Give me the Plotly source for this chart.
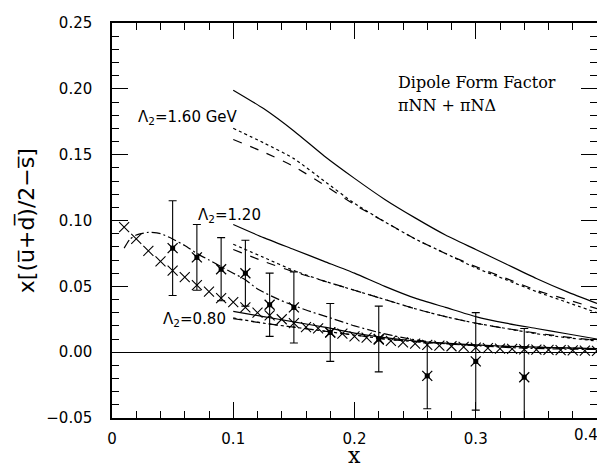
import plotly.graph_objects as go

# ---- data ----
x_model = [0.10, 0.125, 0.15, 0.175, 0.20, 0.225, 0.25, 0.275, 0.30, 0.325, 0.35, 0.375, 0.40]

l160_solid  = [0.199, 0.185, 0.168, 0.149, 0.132, 0.116, 0.102, 0.089, 0.078, 0.067, 0.056, 0.046, 0.037]
l160_dotted = [0.170, 0.159, 0.147, 0.130, 0.113, 0.099, 0.086, 0.075, 0.064, 0.055, 0.046, 0.038, 0.030]
l160_dashed = [0.1615, 0.152, 0.141, 0.127, 0.112, 0.099, 0.086, 0.075, 0.065, 0.056, 0.047, 0.040, 0.033]

l120_solid  = [0.097, 0.087, 0.078, 0.069, 0.060, 0.050, 0.041, 0.034, 0.027, 0.022, 0.018, 0.014, 0.010]
l120_dotted = [0.082, 0.072, 0.062, 0.054, 0.047, 0.040, 0.033, 0.027, 0.022, 0.018, 0.014, 0.011, 0.0085]
l120_dashed = [0.078, 0.069, 0.061, 0.054, 0.047, 0.040, 0.033, 0.027, 0.022, 0.018, 0.0145, 0.0115, 0.009]

l080_solid  = [0.031, 0.027, 0.023, 0.019, 0.0145, 0.011, 0.0085, 0.0068, 0.0055, 0.0045, 0.0038, 0.0032, 0.0027]
l080_dotted = [0.026, 0.022, 0.019, 0.016, 0.013, 0.010, 0.008, 0.0065, 0.0053, 0.0044, 0.0037, 0.0031, 0.0026]
l080_dashed = [0.0255, 0.022, 0.019, 0.016, 0.013, 0.010, 0.008, 0.0065, 0.0053, 0.0044, 0.0037, 0.0031, 0.0026]

x_dashdot = [0.010, 0.015, 0.020, 0.030, 0.040, 0.050, 0.060, 0.070, 0.080, 0.090, 0.100, 0.110,
             0.120, 0.140, 0.160, 0.180, 0.200, 0.220, 0.240, 0.260, 0.280, 0.300, 0.340, 0.400]
y_dashdot = [0.079, 0.086, 0.089, 0.091, 0.090, 0.086, 0.081, 0.075, 0.070, 0.065, 0.060, 0.055,
             0.048, 0.039, 0.032, 0.026, 0.020, 0.015, 0.011, 0.008, 0.006, 0.005, 0.003, 0.002]

x_cross = [0.01, 0.02, 0.03, 0.04, 0.05, 0.06, 0.07, 0.08, 0.09, 0.10,
           0.11, 0.12, 0.13, 0.14, 0.15, 0.16, 0.17, 0.18, 0.19, 0.20,
           0.21, 0.22, 0.23, 0.24, 0.25, 0.26, 0.27, 0.28, 0.29, 0.30,
           0.31, 0.32, 0.33, 0.34, 0.35, 0.36, 0.37, 0.38, 0.39, 0.40]
y_cross = [0.095, 0.086, 0.077, 0.069, 0.062, 0.057, 0.051, 0.046, 0.041, 0.038,
           0.034, 0.030, 0.028, 0.025, 0.022, 0.019, 0.018, 0.015, 0.014, 0.012,
           0.011, 0.0095, 0.0085, 0.0075, 0.0065, 0.0055, 0.005, 0.0045, 0.004, 0.0035,
           0.003, 0.0027, 0.0025, 0.0022, 0.002, 0.0018, 0.0016, 0.0014, 0.0012, 0.001]

x_data = [0.05, 0.07, 0.09, 0.11, 0.13, 0.15, 0.18, 0.22, 0.26, 0.30, 0.34]
y_data = [0.079, 0.072, 0.063, 0.060, 0.036, 0.034, 0.015, 0.010, -0.018, -0.007, -0.019]
e_data = [0.036, 0.025, 0.024, 0.025, 0.024, 0.027, 0.022, 0.025, 0.025, 0.037, 0.037]

x_tickvals = [0, 0.1, 0.2, 0.3, 0.4]
x_ticktext = ["0", "0.1", "0.2", "0.3", "0.4"]

fig = go.Figure()

def line(x, y, dash):
    fig.add_trace(go.Scatter(x=x, y=y, mode="lines", line=dict(color="black", width=1.2, dash=dash,
                             shape="spline", smoothing=0.6), showlegend=False, hoverinfo="skip"))

for ys, d in [(l160_solid, "solid"), (l160_dotted, "dot"), (l160_dashed, "dash"),
              (l120_solid, "solid"), (l120_dotted, "dot"), (l120_dashed, "dash"),
              (l080_solid, "solid"), (l080_dotted, "dot"), (l080_dashed, "dash")]:
    line(x_model, ys, d)

line(x_dashdot, y_dashdot, "9px,3px,2px,3px")

fig.add_trace(go.Scatter(x=x_cross, y=y_cross, mode="markers",
                         marker=dict(symbol="x-thin-open", size=10, color="black",
                                     line=dict(color="black", width=1.1)),
                         showlegend=False))

fig.add_trace(go.Scatter(x=x_data, y=y_data, mode="markers",
                         error_y=dict(type="data", array=e_data, color="black", thickness=1.1, width=4),
                         marker=dict(symbol="square", size=5, color="black"),
                         showlegend=False))
fig.add_trace(go.Scatter(x=x_data, y=y_data, mode="markers",
                         marker=dict(symbol="x-thin-open", size=10, color="black",
                                     line=dict(color="black", width=1.3)),
                         showlegend=False))

axis_common = dict(showline=True, linecolor="black", linewidth=1.5, mirror="allticks",
                   ticks="inside", ticklen=16, tickwidth=1.2, tickcolor="black",
                   showgrid=False, ticklabeloverflow="allow",
                   tickfont=dict(family="DejaVu Sans", size=15, color="black"))

# last x label drawn as annotation (right-aligned at the edge, as in the reference)
fig.update_xaxes(range=[0, 0.4], tickvals=x_tickvals, ticktext=x_ticktext[:-1] + [""], zeroline=False,
                 minor=dict(ticks="inside", dtick=0.02, ticklen=7, tickwidth=1.2, tickcolor="black"),
                 ticklabelstandoff=6, **axis_common)
fig.update_yaxes(range=[-0.05, 0.25], dtick=0.05, tick0=0, tickformat=".2f",
                 zeroline=True, zerolinecolor="black", zerolinewidth=1.3,
                 minor=dict(ticks="inside", dtick=0.01, ticklen=7, tickwidth=1.2, tickcolor="black"),
                 ticklabelstandoff=15, **axis_common)

ann = []
ann.append(dict(text=x_ticktext[-1], xref="x", yref="paper", x=x_tickvals[-1], y=-0.042, showarrow=False,
                xanchor="right", yanchor="middle", xshift=3,
                font=dict(family="DejaVu Sans", size=15, color="black")))
ann.append(dict(text="x[(u\u0305+d\u0305)/2\u2212s\u0305]", xref="paper", yref="paper", x=-0.178, y=0.5,
                textangle=-90, showarrow=False, xanchor="center", yanchor="middle",
                font=dict(family="DejaVu Sans", size=22, color="black")))
ann.append(dict(text="x", xref="paper", yref="paper", x=0.5, y=-0.094, showarrow=False,
                xanchor="center", yanchor="middle", font=dict(family="DejaVu Serif", size=22, color="black")))
ann.append(dict(text="Dipole Form Factor", xref="x", yref="y", x=0.234, y=0.2045, showarrow=False,
                xanchor="left", yanchor="middle", font=dict(family="DejaVu Serif", size=16, color="black")))
ann.append(dict(text="\u03c0NN + \u03c0N\u0394", xref="x", yref="y", x=0.234, y=0.187, showarrow=False,
                xanchor="left", yanchor="middle", font=dict(family="DejaVu Serif", size=16, color="black")))
ann.append(dict(text="\u039b<sub>2</sub>=1.60 GeV", xref="x", yref="y", x=0.020, y=0.1785, showarrow=False,
                xanchor="left", yanchor="middle", font=dict(family="DejaVu Sans", size=15, color="black")))
ann.append(dict(text="\u039b<sub>2</sub>=1.20", xref="x", yref="y", x=0.069, y=0.1035, showarrow=False,
                xanchor="left", yanchor="middle", font=dict(family="DejaVu Sans", size=15, color="black")))
ann.append(dict(text="\u039b<sub>2</sub>=0.80", xref="x", yref="y", x=0.040, y=0.0245, showarrow=False,
                xanchor="left", yanchor="middle", font=dict(family="DejaVu Sans", size=15, color="black")))

# page body has an 8px margin: shrink the figure so plot area lands at the reference pixels
fig.update_layout(width=597, height=462, margin=dict(l=104, r=6, t=8, b=52),
                  paper_bgcolor="white", plot_bgcolor="white", annotations=ann, showlegend=False)

fig.write_html("out.html")
